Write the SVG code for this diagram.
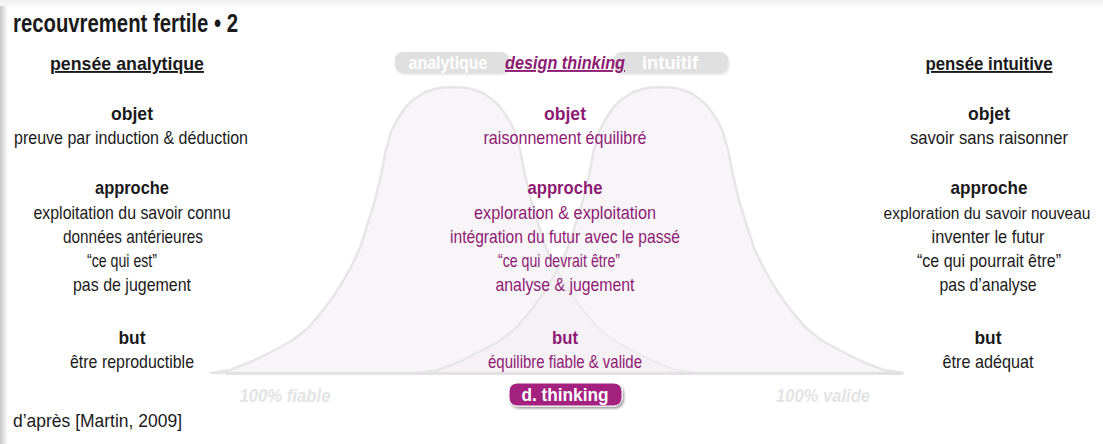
<svg xmlns="http://www.w3.org/2000/svg" width="1103" height="444" viewBox="0 0 1103 444">
<defs>
<linearGradient id="lsh" x1="0" x2="1" y1="0" y2="0"><stop offset="0" stop-color="#c9c9c9"/><stop offset="1" stop-color="#ffffff"/></linearGradient>
<linearGradient id="tsh" x1="0" x2="0" y1="0" y2="1"><stop offset="0" stop-color="#efefef"/><stop offset="1" stop-color="#ffffff"/></linearGradient>
<filter id="ps" x="-20%" y="-30%" width="140%" height="170%"><feDropShadow dx="1.5" dy="2" stdDeviation="1.2" flood-color="#000" flood-opacity="0.4"/></filter>
<filter id="ps2" x="-20%" y="-30%" width="140%" height="170%"><feDropShadow dx="1" dy="1.5" stdDeviation="1" flood-color="#000" flood-opacity="0.12"/></filter>
<path id="bell" d="M-242,373 L-223,370 L-200,361 L-180,351 L-160,340 L-145,328 L-133,314 L-120,297 L-110,281 L-100,263 L-93,248 L-85,223 L-78,200 L-72,175 L-67,150 L-62,132 L-56,120 L-48,108 L-40,100 L-30,93 L-20,89.3 L-10,87.4 L0,87 L10,87.4 L20,89.3 L30,93 L40,100 L48,108 L56,120 L62,132 L67,150 L72,175 L78,200 L85,223 L93,248 L100,263 L110,281 L120,297 L133,314 L145,328 L160,340 L180,351 L200,361 L223,370 L242,373 Z"/>
</defs>
<style>
text{font-family:"Liberation Sans",Arial,sans-serif;}
.t{font-size:19px;fill:#1a1a1a;text-anchor:middle;}
.h{font-size:19px;font-weight:bold;fill:#1a1a1a;text-anchor:middle;}
.m{fill:#8e1b73;}
.bell{fill:#f3eef4;fill-opacity:0.6;stroke:#e6e6e6;stroke-width:2.5;stroke-linejoin:round;}
.pct{font-size:19px;font-weight:bold;font-style:italic;fill:#e4e4e4;text-anchor:middle;}
.pill{fill:#e0e0e0;}
.pt{font-size:19px;font-weight:bold;fill:#ffffff;text-anchor:middle;}
</style>
<rect width="1103" height="444" fill="#ffffff"/>
<rect x="0" y="0" width="1103" height="9" fill="url(#tsh)"/>
<rect x="0" y="6" width="8" height="438" fill="url(#lsh)"/>

<g id="bells">
<use href="#bell" class="bell" x="453" y="0"/>
<use href="#bell" class="bell" x="661" y="0"/>
<line x1="226" y1="373.5" x2="902" y2="373.5" stroke="#e2e2e2" stroke-width="3"/>
</g>

<g id="title"><text x="13" y="32" textLength="225" lengthAdjust="spacingAndGlyphs" style="font-size:25px;font-weight:bold;fill:#1a1a1a">recouvrement fertile • 2</text></g>

<g id="col-analytique">
<text class="h" x="127" y="70" textLength="154" lengthAdjust="spacingAndGlyphs" text-decoration="underline">pensée analytique</text>
<text class="h" x="132" y="120" textLength="42" lengthAdjust="spacingAndGlyphs">objet</text>
<text class="t" x="131" y="144" textLength="234" lengthAdjust="spacingAndGlyphs">preuve par induction &amp; déduction</text>
<text class="h" x="132" y="194" textLength="74" lengthAdjust="spacingAndGlyphs">approche</text>
<text class="t" x="132" y="219" textLength="197" lengthAdjust="spacingAndGlyphs">exploitation du savoir connu</text>
<text class="t" x="133" y="243" textLength="140" lengthAdjust="spacingAndGlyphs">données antérieures</text>
<text class="t" x="122" y="267" textLength="70" lengthAdjust="spacingAndGlyphs">“ce qui est”</text>
<text class="t" x="132" y="291" textLength="118" lengthAdjust="spacingAndGlyphs">pas de jugement</text>
<text class="h" x="132" y="344" textLength="27" lengthAdjust="spacingAndGlyphs">but</text>
<text class="t" x="132" y="368" textLength="124" lengthAdjust="spacingAndGlyphs">être reproductible</text>
</g>

<g id="header-pills">
<rect class="pill" x="395" y="52" width="114" height="21" rx="8" filter="url(#ps2)"/>
<text class="pt" x="448" y="69" textLength="79" lengthAdjust="spacingAndGlyphs">analytique</text>
<rect class="pill" x="614" y="52" width="114" height="21" rx="8" filter="url(#ps2)"/>
<text class="pt" x="670" y="69" textLength="56" lengthAdjust="spacingAndGlyphs">intuitif</text>
<text x="565" y="69" textLength="120" lengthAdjust="spacingAndGlyphs" text-decoration="underline" style="font-size:19px;font-weight:bold;font-style:italic;fill:#8e1b73;text-anchor:middle">design thinking</text>
</g>

<g id="col-design">
<text class="h m" x="565" y="120" textLength="42" lengthAdjust="spacingAndGlyphs">objet</text>
<text class="t m" x="565" y="144" textLength="163" lengthAdjust="spacingAndGlyphs">raisonnement équilibré</text>
<text class="h m" x="565" y="194" textLength="75" lengthAdjust="spacingAndGlyphs">approche</text>
<text class="t m" x="565" y="219" textLength="182" lengthAdjust="spacingAndGlyphs">exploration &amp; exploitation</text>
<text class="t m" x="565" y="243" textLength="230" lengthAdjust="spacingAndGlyphs">intégration du futur avec le passé</text>
<text class="t m" x="559" y="267" textLength="122" lengthAdjust="spacingAndGlyphs">“ce qui devrait être”</text>
<text class="t m" x="565" y="291" textLength="139" lengthAdjust="spacingAndGlyphs">analyse &amp; jugement</text>
<text class="h m" x="565" y="344" textLength="26" lengthAdjust="spacingAndGlyphs">but</text>
<text class="t m" x="565" y="368" textLength="154" lengthAdjust="spacingAndGlyphs">équilibre fiable &amp; valide</text>
</g>

<g id="col-intuitive">
<text class="h" x="989" y="70" textLength="127" lengthAdjust="spacingAndGlyphs" text-decoration="underline">pensée intuitive</text>
<text class="h" x="989" y="120" textLength="42" lengthAdjust="spacingAndGlyphs">objet</text>
<text class="t" x="989" y="144" textLength="158" lengthAdjust="spacingAndGlyphs">savoir sans raisonner</text>
<text class="h" x="989" y="194" textLength="77" lengthAdjust="spacingAndGlyphs">approche</text>
<text class="t" x="987" y="219" textLength="207" lengthAdjust="spacingAndGlyphs" style="font-size:16px">exploration du savoir nouveau</text>
<text class="t" x="988" y="243" textLength="113" lengthAdjust="spacingAndGlyphs">inventer le futur</text>
<text class="t" x="989" y="267" textLength="144" lengthAdjust="spacingAndGlyphs">“ce qui pourrait être”</text>
<text class="t" x="988" y="291" textLength="97" lengthAdjust="spacingAndGlyphs">pas d’analyse</text>
<text class="h" x="988" y="344" textLength="27" lengthAdjust="spacingAndGlyphs">but</text>
<text class="t" x="988" y="368" textLength="91" lengthAdjust="spacingAndGlyphs">être adéquat</text>
</g>

<g id="axis-labels">
<text class="pct" x="285" y="402" textLength="91" lengthAdjust="spacingAndGlyphs">100% fiable</text>
<text class="pct" x="823" y="402" textLength="94" lengthAdjust="spacingAndGlyphs">100% valide</text>
</g>

<g id="dthinking">
<rect x="509" y="383" width="113" height="23" rx="8" fill="#a3207f" stroke="#ffffff" stroke-width="1" filter="url(#ps)"/>
<text class="pt" x="565" y="401" textLength="87" lengthAdjust="spacingAndGlyphs">d. thinking</text>
</g>

<g id="source"><text x="13" y="427" textLength="169" lengthAdjust="spacingAndGlyphs" style="font-size:19px;fill:#1a1a1a">d’après [Martin, 2009]</text></g>
</svg>
